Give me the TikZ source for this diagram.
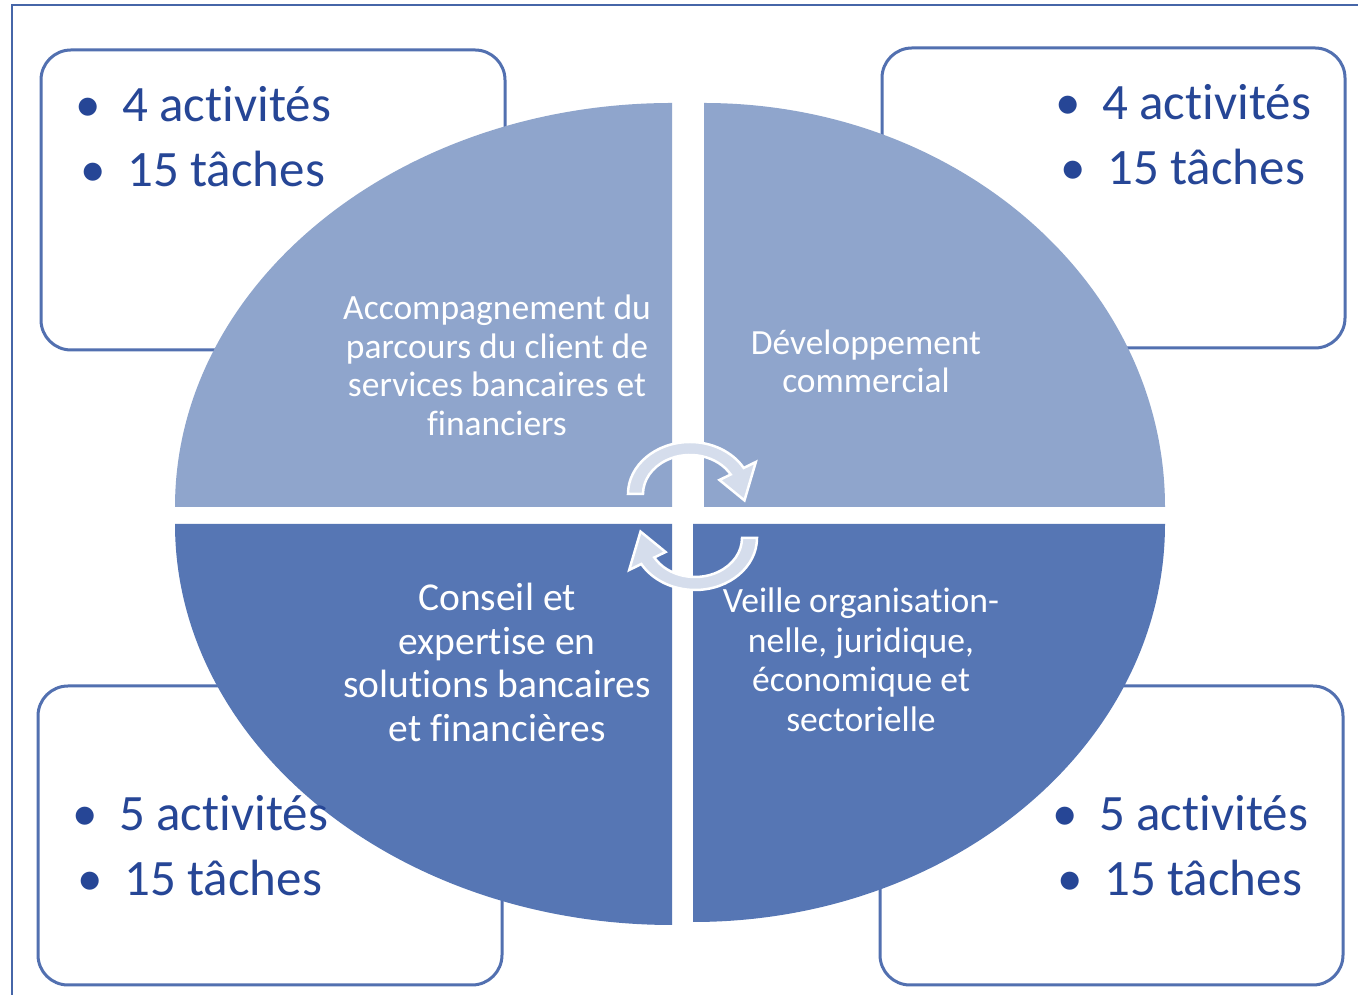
\documentclass[tikz,border=0pt]{standalone}
\usepackage{fontspec}
\setmainfont{Carlito}[Ligatures={NoCommon}]
\definecolor{framecol}{RGB}{70,102,168}
\definecolor{boxline}{RGB}{82,112,176}
\definecolor{boxtext}{RGB}{38,70,150}
\definecolor{quadlight}{RGB}{143,165,204}
\definecolor{quaddark}{RGB}{86,118,180}
\definecolor{arrowfill}{RGB}{213,221,236}
\tikzset{
  framestyle/.style={draw=framecol, line width=2.5pt},
  infobox/.style={draw=boxline, line width=3pt, fill=white, rounded corners=30pt, inner sep=0pt},
  boxlabel/.style={text=boxtext, inner sep=0pt, anchor=base west, font={\fontsize{51}{65}\selectfont}},
  quadlabel/.style={text=white, inner sep=0pt, anchor=base},
  cyclearrow/.style={fill=arrowfill, draw=white, line width=2.5pt, line join=miter},
}
\newcommand{\bul}{\makebox[68pt][c]{\textbullet}}
\begin{document}
\begin{tikzpicture}[x=1pt,y=1pt]
\useasboundingbox (0,0) rectangle (1358,995);
\fill[white] (0,0) rectangle (1358,995);
% outer frame (left and top edges)
\draw[framestyle] (12,0) -- (12,990) -- (1358,990);

% corner boxes
\node[infobox, minimum width=464pt, minimum height=300pt] (boxTL) at (273,795) {};
\node[infobox, minimum width=463pt, minimum height=300pt] (boxTR) at (1113.5,797) {};
\node[infobox, minimum width=464pt, minimum height=299pt] (boxBL) at (270,159.5) {};
\node[infobox, minimum width=463pt, minimum height=299pt] (boxBR) at (1111.5,159.5) {};

% four quarter-ellipse sectors
\fill[quadlight] (672,488) -- (175,488) arc[start angle=180, end angle=90, x radius=497, y radius=404] -- cycle;
\fill[quadlight] (704,488) -- (704,892) arc[start angle=90, end angle=0, x radius=461, y radius=404] -- cycle;
\fill[quaddark] (672,471) -- (175,471) arc[start angle=180, end angle=270, x radius=497, y radius=401] -- cycle;
\fill[quaddark] (693,471) -- (1165,471) arc[start angle=0, end angle=-90, x radius=472, y radius=398] -- cycle;

% circular arrows in the middle
\begin{scope}[shift={(690,501)}]
\draw[cyclearrow] (-62,0) arc[start angle=180, end angle=30, x radius=62, y radius=52]
  -- ({76*cos(30)},{64*sin(30)}) -- ({55*cos(-8)},{46*sin(-8)})
  -- ({34*cos(30)},{28*sin(30)}) -- ({47*cos(30)},{39*sin(30)})
  arc[start angle=30, end angle=180, x radius=47, y radius=39] -- cycle;
\end{scope}
\begin{scope}[shift={(695,457)}, rotate=180]
\draw[cyclearrow] (-62,0) arc[start angle=180, end angle=30, x radius=62, y radius=52]
  -- ({76*cos(30)},{64*sin(30)}) -- ({55*cos(-8)},{46*sin(-8)})
  -- ({34*cos(30)},{28*sin(30)}) -- ({47*cos(30)},{39*sin(30)})
  arc[start angle=30, end angle=180, x radius=47, y radius=39] -- cycle;
\end{scope}

% sector labels
\node[quadlabel, font={\fontsize{35.5}{38.5}\selectfont}] (qTL) at (497,675)
  {\begin{tabular}[t]{@{}c@{}}Accompagnement du\\parcours du client de\\services bancaires et\\financiers\end{tabular}};
\node[quadlabel, font={\fontsize{35.4}{38}\selectfont}] (qTR) at (866,640)
  {\begin{tabular}[t]{@{}c@{}}Développement\\commercial\end{tabular}};
\node[quadlabel, font={\fontsize{39.5}{43.5}\selectfont}] (qBL) at (497,384)
  {\begin{tabular}[t]{@{}c@{}}Conseil et\\expertise en\\solutions bancaires\\et financières\end{tabular}};
\node[quadlabel, font={\fontsize{35.6}{39.5}\selectfont}] (qBR) at (861,382)
  {\begin{tabular}[t]{@{}c@{}}Veille organisation-\\nelle, juridique,\\économique et\\sectorielle\end{tabular}};

% box labels
\node[boxlabel] (tTL) at (54,873)
  {\begin{tabular}[t]{@{}l@{}}\bul 4 activités\\\hspace*{5pt}\bul 15 tâches\end{tabular}};
\node[boxlabel] (tTR) at (1034,875)
  {\begin{tabular}[t]{@{}l@{}}\bul 4 activités\\\hspace*{5pt}\bul 15 tâches\end{tabular}};
\node[boxlabel] (tBL) at (51,164)
  {\begin{tabular}[t]{@{}l@{}}\bul 5 activités\\\hspace*{5pt}\bul 15 tâches\end{tabular}};
\node[boxlabel] (tBR) at (1031,164)
  {\begin{tabular}[t]{@{}l@{}}\bul 5 activités\\\hspace*{5pt}\bul 15 tâches\end{tabular}};
\end{tikzpicture}
\end{document}
